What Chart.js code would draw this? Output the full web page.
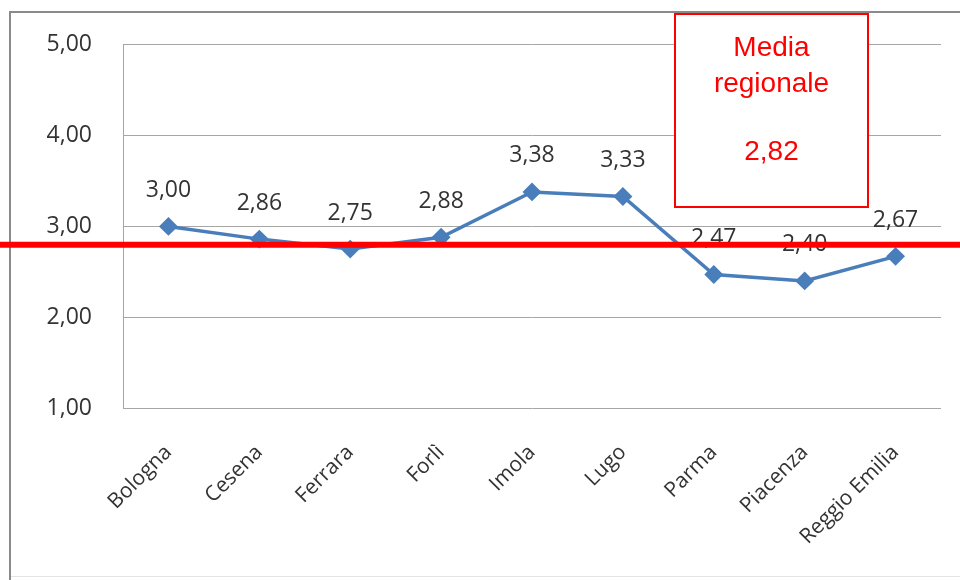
<!DOCTYPE html>
<html><head><meta charset="utf-8">
<script src="https://cdn.jsdelivr.net/npm/chart.js@4/dist/chart.umd.min.js"></script>
<style>html,body{margin:0;padding:0;background:#fff}#wrap{width:960px;height:580px}</style>
</head><body><div id="wrap"><canvas id="c" width="960" height="580"></canvas></div>
<script>
const categories = ['Bologna','Cesena','Ferrara','Forlì','Imola','Lugo','Parma','Piacenza','Reggio Emilia'];
const values = [3.00, 2.86, 2.75, 2.88, 3.38, 3.33, 2.47, 2.40, 2.67];
const regionalMean = 2.82;
const yTickValues = [1, 2, 3, 4, 5];
const yTickLabels = ['1,00', '2,00', '3,00', '4,00', '5,00'];
const boxLines = ['Media', 'regionale', '', '2,82'];
const fmt = v => v.toFixed(2).replace('.', ',');

const LABEL_FONT = '23px "Open Sans", sans-serif';

const framePlugin = {
  id: 'frame',
  beforeDraw(chart) {
    const ctx = chart.ctx;
    ctx.save();
    ctx.fillStyle = '#fff';
    ctx.fillRect(0, 0, chart.width, chart.height);
    ctx.strokeStyle = '#8a8a8a';
    ctx.lineWidth = 2;
    ctx.beginPath();
    ctx.moveTo(10, 580);
    ctx.lineTo(10, 12);
    ctx.lineTo(960, 12);
    ctx.stroke();
    ctx.strokeStyle = '#e4e4e4';
    ctx.lineWidth = 1;
    ctx.beginPath();
    ctx.moveTo(11, 576.5);
    ctx.lineTo(960, 576.5);
    ctx.stroke();
    ctx.restore();
  }
};

const labelPlugin = {
  id: 'pointLabels',
  afterDatasetsDraw(chart) {
    const ctx = chart.ctx;
    const meta = chart.getDatasetMeta(0);
    ctx.save();
    ctx.font = LABEL_FONT;
    ctx.fillStyle = '#333';
    ctx.textAlign = 'center';
    ctx.textBaseline = 'middle';
    meta.data.forEach((pt, i) => {
      ctx.fillText(fmt(values[i]), pt.x, pt.y - 36);
    });
    ctx.restore();
  }
};

const meanPlugin = {
  id: 'meanLine',
  afterDraw(chart) {
    const ctx = chart.ctx;
    const y = chart.scales.y.getPixelForValue(regionalMean);
    ctx.save();
    ctx.strokeStyle = '#ff0000';
    ctx.lineWidth = 6;
    ctx.beginPath();
    ctx.moveTo(0, y + 2);
    ctx.lineTo(chart.width, y + 2);
    ctx.stroke();
    // annotation box
    const bx = 675, by = 14, bw = 193, bh = 193;
    ctx.fillStyle = '#fff';
    ctx.fillRect(bx, by, bw, bh);
    ctx.strokeStyle = '#ff0000';
    ctx.lineWidth = 2;
    ctx.strokeRect(bx, by, bw, bh);
    ctx.fillStyle = '#ff0000';
    ctx.font = '28px "Liberation Sans", Arial, sans-serif';
    ctx.textAlign = 'center';
    ctx.textBaseline = 'middle';
    const ys = [48, 84, 117, 152];
    boxLines.forEach((t, i) => { if (t) ctx.fillText(t, bx + bw / 2, ys[i]); });
    ctx.restore();
  }
};

new Chart(document.getElementById('c'), {
  type: 'line',
  data: {
    labels: categories,
    datasets: [{
      data: values,
      borderColor: '#4a7ebb',
      backgroundColor: '#4a7ebb',
      borderWidth: 3.5,
      pointStyle: 'rectRot',
      pointRadius: 7,
      pointHoverRadius: 7,
      tension: 0,
      fill: false
    }]
  },
  options: {
    responsive: false,
    devicePixelRatio: 1,
    animation: false,
    layout: { padding: { left: 12, top: 44, right: 19, bottom: 0 } },
    plugins: { legend: { display: false }, tooltip: { enabled: false } },
    scales: {
      x: {
        offset: true,
        grid: { display: false, drawTicks: false },
        border: { display: false },
        ticks: {
          minRotation: 45, maxRotation: 45, autoSkip: false,
          padding: 32,
          color: '#333',
          font: { family: '"Open Sans", sans-serif', size: 21 }
        },
        afterFit(s) { s.height = 172; }
      },
      y: {
        min: 1, max: 5,
        afterBuildTicks(s) { s.ticks = yTickValues.map(v => ({ value: v })); },
        grid: { color: '#a6a6a6', lineWidth: 1, drawTicks: false },
        border: { display: true, color: '#a6a6a6', width: 1 },
        ticks: {
          padding: 31,
          color: '#333',
          font: { family: '"Open Sans", sans-serif', size: 23 },
          callback: (v) => yTickLabels[yTickValues.indexOf(v)]
        },
        afterFit(s) { s.width = 111; }
      }
    }
  },
  plugins: [framePlugin, labelPlugin, meanPlugin]
});
</script>
</body></html>
